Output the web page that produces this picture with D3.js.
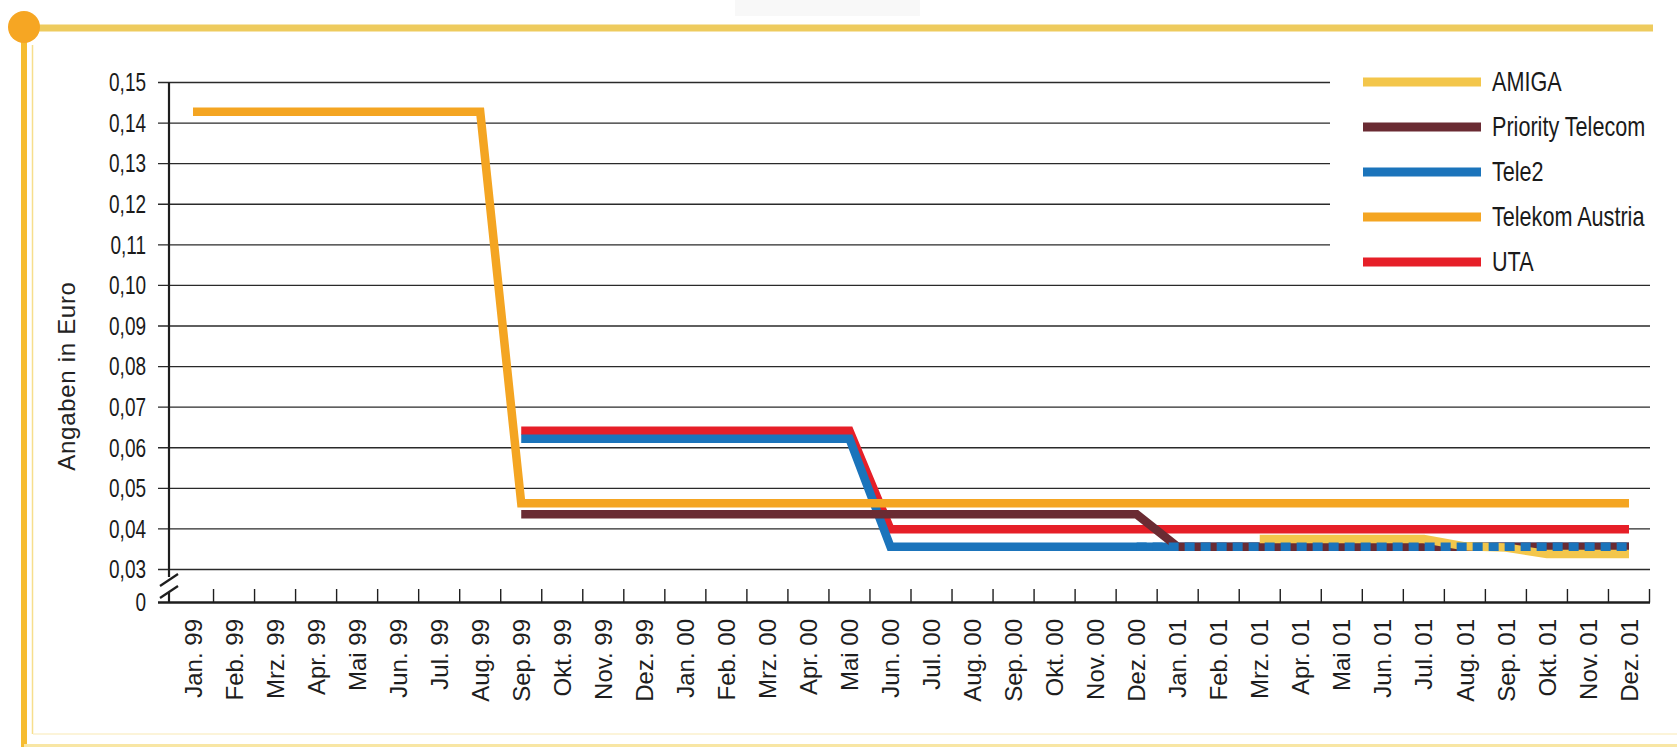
<!DOCTYPE html>
<html>
<head>
<meta charset="utf-8">
<script src="https://cdn.jsdelivr.net/npm/d3@7"></script>
<style>
    body { margin: 0; background: #fff; }
    svg { display: block; font-family: "Liberation Sans", Arial, sans-serif; }
</style>
</head>
<body>
<div id="chart"></div>
<script>
//
// Minutenpreise 1999 - 2001, D3 line chart
//

var months = ["Jan. 99", "Feb. 99", "Mrz. 99", "Apr. 99", "Mai 99", "Jun. 99", "Jul. 99", "Aug. 99",
    "Sep. 99", "Okt. 99", "Nov. 99", "Dez. 99", "Jan. 00", "Feb. 00", "Mrz. 00", "Apr. 00", "Mai 00",
    "Jun. 00", "Jul. 00", "Aug. 00", "Sep. 00", "Okt. 00", "Nov. 00", "Dez. 00", "Jan. 01", "Feb. 01",
    "Mrz. 01", "Apr. 01", "Mai 01", "Jun. 01", "Jul. 01", "Aug. 01", "Sep. 01", "Okt. 01", "Nov. 01", "Dez. 01"];

// Euro per month, null = no offer yet
var amiga = [null, null, null, null, null, null, null, null, null, null, null, null,
    null, null, null, null, null, null, null, null, null, null, null, null,
    null, null, 0.0375, 0.0375, 0.0375, 0.0375, 0.0375, 0.0357, 0.0354, 0.0338, 0.0338, 0.0338];
var priorityTelecom = [null, null, null, null, null, null, null, null, 0.0436, 0.0436, 0.0436, 0.0436,
    0.0436, 0.0436, 0.0436, 0.0436, 0.0436, 0.0436, 0.0436, 0.0436, 0.0436, 0.0436, 0.0436, 0.0436,
    0.0356, 0.0356, 0.0356, 0.0356, 0.0356, 0.0356, 0.0356, 0.0356, 0.0356, 0.0356, 0.0356, 0.0356];
var tele2 = [null, null, null, null, null, null, null, null, 0.0622, 0.0622, 0.0622, 0.0622,
    0.0622, 0.0622, 0.0622, 0.0622, 0.0622, 0.0356, 0.0356, 0.0356, 0.0356, 0.0356, 0.0356, 0.0356,
    0.0356, 0.0356, 0.0356, 0.0356, 0.0356, 0.0356, 0.0356, 0.0356, 0.0356, 0.0356, 0.0356, 0.0356];
var telekomAustria = [0.1428, 0.1428, 0.1428, 0.1428, 0.1428, 0.1428, 0.1428, 0.1428, 0.0463, 0.0463, 0.0463, 0.0463,
    0.0463, 0.0463, 0.0463, 0.0463, 0.0463, 0.0463, 0.0463, 0.0463, 0.0463, 0.0463, 0.0463, 0.0463,
    0.0463, 0.0463, 0.0463, 0.0463, 0.0463, 0.0463, 0.0463, 0.0463, 0.0463, 0.0463, 0.0463, 0.0463];
var uta = [null, null, null, null, null, null, null, null, 0.0642, 0.0642, 0.0642, 0.0642,
    0.0642, 0.0642, 0.0642, 0.0642, 0.0642, 0.0399, 0.0399, 0.0399, 0.0399, 0.0399, 0.0399, 0.0399,
    0.0399, 0.0399, 0.0399, 0.0399, 0.0399, 0.0399, 0.0399, 0.0399, 0.0399, 0.0399, 0.0399, 0.0399];

var yTicks = [0.15, 0.14, 0.13, 0.12, 0.11, 0.10, 0.09, 0.08, 0.07, 0.06, 0.05, 0.04, 0.03];
var legendNames = ["AMIGA", "Priority Telecom", "Tele2", "Telekom Austria", "UTA"];

var width = 1677;
var height = 747;
var yZero = 602.5;        // where "0" sits below the axis break
var tele2DashFrom = 23;   // Tele2 drawn dashed where it overlaps Priority Telecom

var colors = {
    "AMIGA": "#F3C64B",
    "Priority Telecom": "#6A2B33",
    "Tele2": "#1B74BB",
    "Telekom Austria": "#F4A522",
    "UTA": "#E61F28"
};

var svg = d3.select("#chart")
    .append("svg")
    .attr("width", width)
    .attr("height", height);

svg.append("rect").attr("width", width).attr("height", height).attr("fill", "#fff");

// frame decoration
svg.append("rect").attr("x", 735).attr("y", 0).attr("width", 185).attr("height", 16).attr("fill", "#f8f8f8");
svg.append("line").attr("x1", 24).attr("x2", 1653).attr("y1", 28).attr("y2", 28)
    .attr("stroke", "#EECB5E").attr("stroke-width", 7);
svg.append("line").attr("x1", 24).attr("x2", 24).attr("y1", 28).attr("y2", height)
    .attr("stroke", "#F6BC30").attr("stroke-width", 6);
svg.append("line").attr("x1", 32.5).attr("x2", 32.5).attr("y1", 45).attr("y2", 734)
    .attr("stroke", "#F7DE8C").attr("stroke-width", 1.5);
svg.append("line").attr("x1", 33).attr("x2", width).attr("y1", 734).attr("y2", 734)
    .attr("stroke", "#FBF0CC").attr("stroke-width", 1.5);
svg.append("line").attr("x1", 24).attr("x2", width).attr("y1", 745.5).attr("y2", 745.5)
    .attr("stroke", "#F8E6A4").attr("stroke-width", 3);
svg.append("circle").attr("cx", 24).attr("cy", 27).attr("r", 16).attr("fill", "#F6A623");

// scales
var x = d3.scaleBand().domain(months).range([172.5, 1649.5]).padding(0);
var xc = function (m) { return x(m) + x.bandwidth() / 2; };
var y = d3.scaleLinear().domain([0.03, 0.15]).range([569.5, 82.5]);

var fmt = function (d) { return d3.format(".2f")(d).replace(".", ","); };

// grid
svg.append("g")
    .selectAll("line")
    .data(yTicks)
    .join("line")
    .attr("x1", 158)
    .attr("x2", 1650)
    .attr("y1", function (d) { return y(d); })
    .attr("y2", function (d) { return y(d); })
    .attr("stroke", "#2a2a2a")
    .attr("stroke-width", 1.4);

// y axis with break
var axisColor = "#1e1e1e";
svg.append("line").attr("x1", 169).attr("x2", 169).attr("y1", y(0.15)).attr("y2", 577)
    .attr("stroke", axisColor).attr("stroke-width", 2.2);
svg.append("line").attr("x1", 169).attr("x2", 169).attr("y1", 592).attr("y2", yZero)
    .attr("stroke", axisColor).attr("stroke-width", 2.2);
[580, 592].forEach(function (c) {
    svg.append("line").attr("x1", 160).attr("x2", 178).attr("y1", c + 6).attr("y2", c - 6)
        .attr("stroke", axisColor).attr("stroke-width", 2.2);
});

svg.append("g")
    .selectAll("text")
    .data(yTicks)
    .join("text")
    .attr("transform", function (d) { return "translate(146," + y(d) + ") scale(0.76,1)"; })
    .attr("dy", "0.35em")
    .attr("text-anchor", "end")
    .style("font-size", "25px")
    .attr("fill", "#1a1a1a")
    .text(fmt);

svg.append("text")
    .attr("transform", "translate(146," + yZero + ") scale(0.76,1)")
    .attr("dy", "0.35em")
    .attr("text-anchor", "end")
    .style("font-size", "25px")
    .attr("fill", "#1a1a1a")
    .text("0");

svg.append("text")
    .attr("transform", "translate(67,376) rotate(-90)")
    .attr("dy", "0.35em")
    .attr("text-anchor", "middle")
    .style("font-size", "24px")
    .style("letter-spacing", "0.7px")
    .attr("fill", "#222")
    .text("Angaben in Euro");

// x axis
svg.append("line").attr("x1", 158).attr("x2", 1650).attr("y1", yZero).attr("y2", yZero)
    .attr("stroke", axisColor).attr("stroke-width", 2.6);

var tickPos = months.slice(1).map(function (m) { return x(m); }).concat([x.range()[1]]);
svg.append("g")
    .selectAll("line")
    .data(tickPos)
    .join("line")
    .attr("x1", function (d) { return d; })
    .attr("x2", function (d) { return d; })
    .attr("y1", 589)
    .attr("y2", yZero)
    .attr("stroke", axisColor)
    .attr("stroke-width", 1.4);

svg.append("g")
    .selectAll("text")
    .data(months)
    .join("text")
    .attr("transform", function (d) { return "translate(" + xc(d) + ",619) rotate(-90)"; })
    .attr("dy", "0.36em")
    .attr("text-anchor", "end")
    .style("font-size", "24px")
    .attr("fill", "#1e1e1e")
    .text(function (d) { return d; });

// lines
var line = d3.line()
    .defined(function (d) { return d.v != null; })
    .x(function (d) { return xc(d.m); })
    .y(function (d) { return y(d.v); });

function toPoints(values) {
    return values.map(function (v, i) { return { m: months[i], v: v }; });
}

var drawOrder = [
    { name: "UTA", values: uta },
    { name: "Tele2", values: tele2 },
    { name: "Priority Telecom", values: priorityTelecom },
    { name: "AMIGA", values: amiga },
    { name: "Telekom Austria", values: telekomAustria }
];

svg.append("g")
    .selectAll("path")
    .data(drawOrder)
    .join("path")
    .attr("d", function (d) { return line(toPoints(d.values)); })
    .attr("fill", "none")
    .attr("stroke", function (d) { return colors[d.name]; })
    .attr("stroke-width", 8.5)
    .attr("stroke-linejoin", "miter")
    .attr("stroke-linecap", "butt");

// Tele2 dashed on top of Priority Telecom
var tele2Dashed = toPoints(tele2).slice(tele2DashFrom);
svg.append("path")
    .attr("d", line(tele2Dashed))
    .attr("fill", "none")
    .attr("stroke", colors["Tele2"])
    .attr("stroke-width", 8.5)
    .attr("stroke-dasharray", "10,6");

// legend
svg.append("rect").attr("x", 1330).attr("y", 58).attr("width", 322).attr("height", 220).attr("fill", "#fff");

var legend = svg.selectAll("legend")
    .data(legendNames)
    .enter()
    .append("g")
    .attr("transform", function (d, idx) { return "translate(1363," + (82 + idx * 45) + ")"; });

legend.append("line")
    .attr("x1", 0)
    .attr("x2", 118)
    .attr("stroke", function (d) { return colors[d]; })
    .attr("stroke-width", 9);

legend.append("text")
    .attr("transform", "translate(129,0) scale(0.8,1)")
    .attr("dy", "0.35em")
    .style("font-size", "27px")
    .attr("fill", "#1a1a1a")
    .text(function (d) { return d; });
</script>
</body>
</html>
